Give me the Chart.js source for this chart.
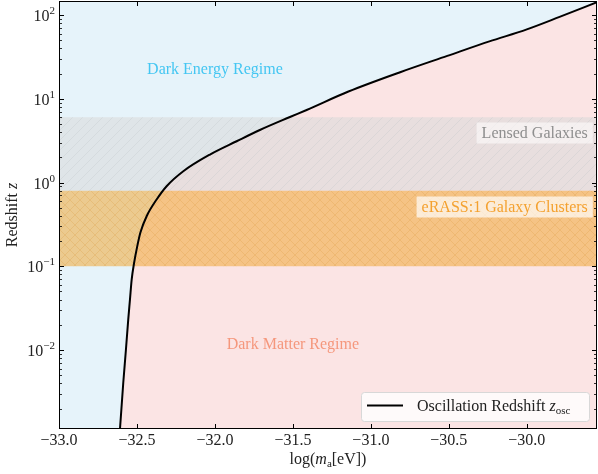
<!DOCTYPE html>
<html>
<head>
<meta charset="utf-8">
<script src="https://cdn.jsdelivr.net/npm/chart.js@4/dist/chart.umd.min.js"></script>
<style>
  html, body { margin: 0; padding: 0; background: #ffffff; }
  #wrap { width: 598px; height: 474px; }
</style>
</head>
<body>
<div id="wrap"><canvas id="chart" width="598" height="474"></canvas></div>
<script>
// Oscillation redshift of the field versus log10 of its mass
const logMass = [-32.612, -32.609, -32.588, -32.571, -32.556, -32.545, -32.534, -32.519, -32.500,
                 -32.478, -32.438, -32.374, -32.310, -32.203, -32.032, -31.861, -31.712,
                 -31.519, -31.412, -31.144, -30.808, -30.510, -30.240, -30.000, -29.790, -29.550];
const zOsc = [0.00098, 0.00114, 0.00404, 0.0100, 0.0231, 0.040, 0.0694, 0.108, 0.167,
              0.253, 0.396, 0.627, 0.903, 1.364, 2.16, 3.11, 4.24,
              6.06, 7.35, 12.2, 20.9, 32.5, 48.4, 67.4, 94.9, 142.0];

// Axis ranges and ticks
const massRange = [-33.0, -29.55];
const zRange = [0.00114, 147];
const massTicks = [-33.0, -32.5, -32.0, -31.5, -31.0, -30.5, -30.0];
const zDecades = [-2, -1, 0, 1, 2];

// Observational redshift windows
const lensedBand = [0.8, 6];
const clusterBand = [0.1, 0.8];

const SERIF = '"Liberation Serif", "DejaVu Serif", serif';
const COLORS = {
  energy: '#e6f3fa',
  matter: '#fbe4e4',
  energyText: '#44c6f2',
  matterText: '#f5977c',
  curve: '#000000'
};

function hatchPattern(base, line, cross) {
  const s = 10;
  const c = document.createElement('canvas');
  c.width = s; c.height = s;
  const g = c.getContext('2d');
  g.fillStyle = base;
  g.fillRect(0, 0, s, s);
  g.strokeStyle = line;
  g.lineWidth = 1;
  g.beginPath();
  g.moveTo(-1, s + 1); g.lineTo(s + 1, -1);
  g.moveTo(-1, 1); g.lineTo(1, -1);
  g.moveTo(s - 1, s + 1); g.lineTo(s + 1, s - 1);
  if (cross) {
    g.moveTo(-1, -1); g.lineTo(s + 1, s + 1);
    g.moveTo(s - 1, -1); g.lineTo(s + 1, 1);
    g.moveTo(-1, s - 1); g.lineTo(1, s + 1);
  }
  g.stroke();
  return g.createPattern(c, 'repeat');
}

const lensedFill = hatchPattern('rgba(218,218,218,0.57)', 'rgba(190,195,198,0.30)', false);
const clusterFill = hatchPattern('rgba(240,168,55,0.55)', 'rgba(215,150,60,0.25)', true);

const curvePoints = logMass.map((m, i) => ({ x: m, y: zOsc[i] }));
const band = (z) => [{ x: massRange[0], y: z }, { x: massRange[1], y: z }];

// Draw mixed-font text runs; align: 'left' | 'center' | 'right'
function drawRuns(ctx, runs, x, y, align) {
  let total = 0;
  runs.forEach(r => { ctx.font = r.font; r.w = ctx.measureText(r.t).width; total += r.w; });
  let cx = align === 'center' ? x - total / 2 : align === 'right' ? x - total : x;
  ctx.textAlign = 'left';
  ctx.textBaseline = 'alphabetic';
  runs.forEach(r => { ctx.font = r.font; ctx.fillText(r.t, cx, y + (r.dy || 0)); cx += r.w; });
  return total;
}

const decorations = {
  id: 'decorations',
  beforeDatasetsDraw(chart) {
    const { ctx, chartArea: a } = chart;
    ctx.save();
    ctx.fillStyle = COLORS.energy;
    ctx.fillRect(a.left, a.top, a.right - a.left, a.bottom - a.top);
    ctx.restore();
  },
  afterDatasetsDraw(chart) {
    const { ctx, chartArea: a, scales: { x, y } } = chart;
    ctx.save();
    ctx.beginPath();
    ctx.rect(a.left, a.top, a.right - a.left, a.bottom - a.top);
    ctx.clip();

    // Regime names
    ctx.fillStyle = COLORS.energyText;
    ctx.font = '16px ' + SERIF;
    ctx.textAlign = 'center';
    ctx.textBaseline = 'middle';
    ctx.fillText('Dark Energy Regime', x.getPixelForValue(-32.0), y.getPixelForValue(22.4));
    ctx.fillStyle = COLORS.matterText;
    ctx.fillText('Dark Matter Regime', x.getPixelForValue(-31.5), y.getPixelForValue(0.0116));

    // Band labels in translucent boxes
    const boxed = (text, xr, zc, fg, bg) => {
      ctx.font = '16px ' + SERIF;
      const w = ctx.measureText(text).width;
      const px = x.getPixelForValue(xr);
      const py = y.getPixelForValue(zc);
      ctx.fillStyle = bg;
      ctx.fillRect(px - w - 5, py - 10.5, w + 10, 21);
      ctx.fillStyle = fg;
      ctx.textAlign = 'right';
      ctx.textBaseline = 'middle';
      ctx.fillText(text, px, py + 1);
    };
    boxed('Lensed Galaxies', -29.609, 3.9, '#8e8e8e', 'rgba(255,255,255,0.55)');
    boxed('eRASS:1 Galaxy Clusters', -29.609, 0.51, '#f4a12f', 'rgba(255,255,255,0.68)');
    ctx.restore();
  },
  afterDraw(chart) {
    const { ctx, chartArea: a, scales: { x, y } } = chart;
    ctx.save();

    // Legend
    const lx = 361, ly = 392, lw = 228, lh = 29;
    ctx.beginPath();
    ctx.roundRect(lx + 0.5, ly + 0.5, lw, lh, 3);
    ctx.fillStyle = 'rgba(255,255,255,0.8)';
    ctx.fill();
    ctx.strokeStyle = '#d8d8d8';
    ctx.lineWidth = 1;
    ctx.stroke();
    ctx.beginPath();
    ctx.moveTo(367, 405.5); ctx.lineTo(403, 405.5);
    ctx.strokeStyle = COLORS.curve;
    ctx.lineWidth = 2;
    ctx.stroke();
    ctx.fillStyle = '#222';
    drawRuns(ctx, [
      { t: 'Oscillation Redshift ', font: '16px ' + SERIF },
      { t: 'z', font: 'italic 16px ' + SERIF },
      { t: 'osc', font: '11px ' + SERIF, dy: 3 }
    ], 417, 411, 'left');

    // Frame
    ctx.strokeStyle = '#000';
    ctx.lineWidth = 1;
    ctx.strokeRect(a.left + 0.5, a.top + 0.5, a.right - a.left - 1, a.bottom - a.top - 1);

    // Inward ticks on all four sides
    ctx.beginPath();
    massTicks.forEach(v => {
      const px = Math.round(x.getPixelForValue(v)) + 0.5;
      ctx.moveTo(px, a.bottom); ctx.lineTo(px, a.bottom - 5);
      ctx.moveTo(px, a.top); ctx.lineTo(px, a.top + 5);
    });
    zDecades.forEach(d => {
      const py = Math.round(y.getPixelForValue(Math.pow(10, d))) + 0.5;
      ctx.moveTo(a.left, py); ctx.lineTo(a.left + 5, py);
      ctx.moveTo(a.right, py); ctx.lineTo(a.right - 5, py);
    });
    ctx.stroke();
    ctx.beginPath();
    ctx.lineWidth = 0.8;
    for (let d = -3; d <= 2; d++) {
      for (let k = 2; k <= 9; k++) {
        const v = k * Math.pow(10, d);
        if (v < zRange[0] || v > zRange[1]) continue;
        const py = Math.round(y.getPixelForValue(v)) + 0.5;
        ctx.moveTo(a.left, py); ctx.lineTo(a.left + 3, py);
        ctx.moveTo(a.right, py); ctx.lineTo(a.right - 3, py);
      }
    }
    ctx.stroke();

    // Tick labels
    ctx.fillStyle = '#222';
    ctx.font = '16px ' + SERIF;
    ctx.textAlign = 'center';
    ctx.textBaseline = 'alphabetic';
    massTicks.forEach(v => {
      const label = (v < 0 ? '\u2212' : '') + Math.abs(v).toFixed(1);
      ctx.fillText(label, x.getPixelForValue(v), 445);
    });
    zDecades.forEach(d => {
      const py = y.getPixelForValue(Math.pow(10, d));
      const exp = (d < 0 ? '\u2212' : '') + Math.abs(d);
      drawRuns(ctx, [
        { t: '10', font: '16px ' + SERIF },
        { t: exp, font: '11px ' + SERIF, dy: -7 }
      ], 55, py + 6, 'right');
    });

    // Axis titles
    drawRuns(ctx, [
      { t: 'log(', font: '16px ' + SERIF },
      { t: 'm', font: 'italic 16px ' + SERIF },
      { t: 'a', font: '11px ' + SERIF, dy: 3 },
      { t: '[eV])', font: '16px ' + SERIF }
    ], (a.left + a.right) / 2, 464, 'center');

    ctx.translate(17, (a.top + a.bottom) / 2);
    ctx.rotate(-Math.PI / 2);
    drawRuns(ctx, [
      { t: 'Redshift ', font: '16px ' + SERIF },
      { t: 'z', font: 'italic 16px ' + SERIF }
    ], 0, 0, 'center');
    ctx.restore();
  }
};

new Chart(document.getElementById('chart'), {
  type: 'line',
  data: {
    datasets: [
      { data: curvePoints, fill: 'start', backgroundColor: COLORS.matter, borderWidth: 0,
        pointRadius: 0, cubicInterpolationMode: 'monotone', order: 5 },
      { data: band(lensedBand[1]), fill: '+1', backgroundColor: lensedFill, borderWidth: 0,
        pointRadius: 0, order: 3 },
      { data: band(lensedBand[0]), fill: false, borderWidth: 0, pointRadius: 0, order: 3 },
      { data: band(clusterBand[1]), fill: '+1', backgroundColor: clusterFill, borderWidth: 0,
        pointRadius: 0, order: 2 },
      { data: band(clusterBand[0]), fill: false, borderWidth: 0, pointRadius: 0, order: 2 },
      { label: 'Oscillation Redshift', data: curvePoints, fill: false, borderColor: COLORS.curve,
        borderWidth: 2, pointRadius: 0, cubicInterpolationMode: 'monotone', order: 0 }
    ]
  },
  options: {
    responsive: false,
    animation: false,
    devicePixelRatio: 1,
    layout: { padding: { top: 1, right: 1, left: 0, bottom: 0 } },
    plugins: { legend: { display: false }, tooltip: { enabled: false } },
    scales: {
      x: {
        type: 'linear', min: massRange[0], max: massRange[1],
        grid: { display: false, drawTicks: false }, border: { display: false },
        ticks: { display: false },
        afterFit(s) { s.height = 45; }
      },
      y: {
        type: 'logarithmic', min: zRange[0], max: zRange[1],
        grid: { display: false, drawTicks: false }, border: { display: false },
        ticks: { display: false },
        afterFit(s) { s.width = 59; }
      }
    }
  },
  plugins: [decorations]
});
</script>
</body>
</html>
